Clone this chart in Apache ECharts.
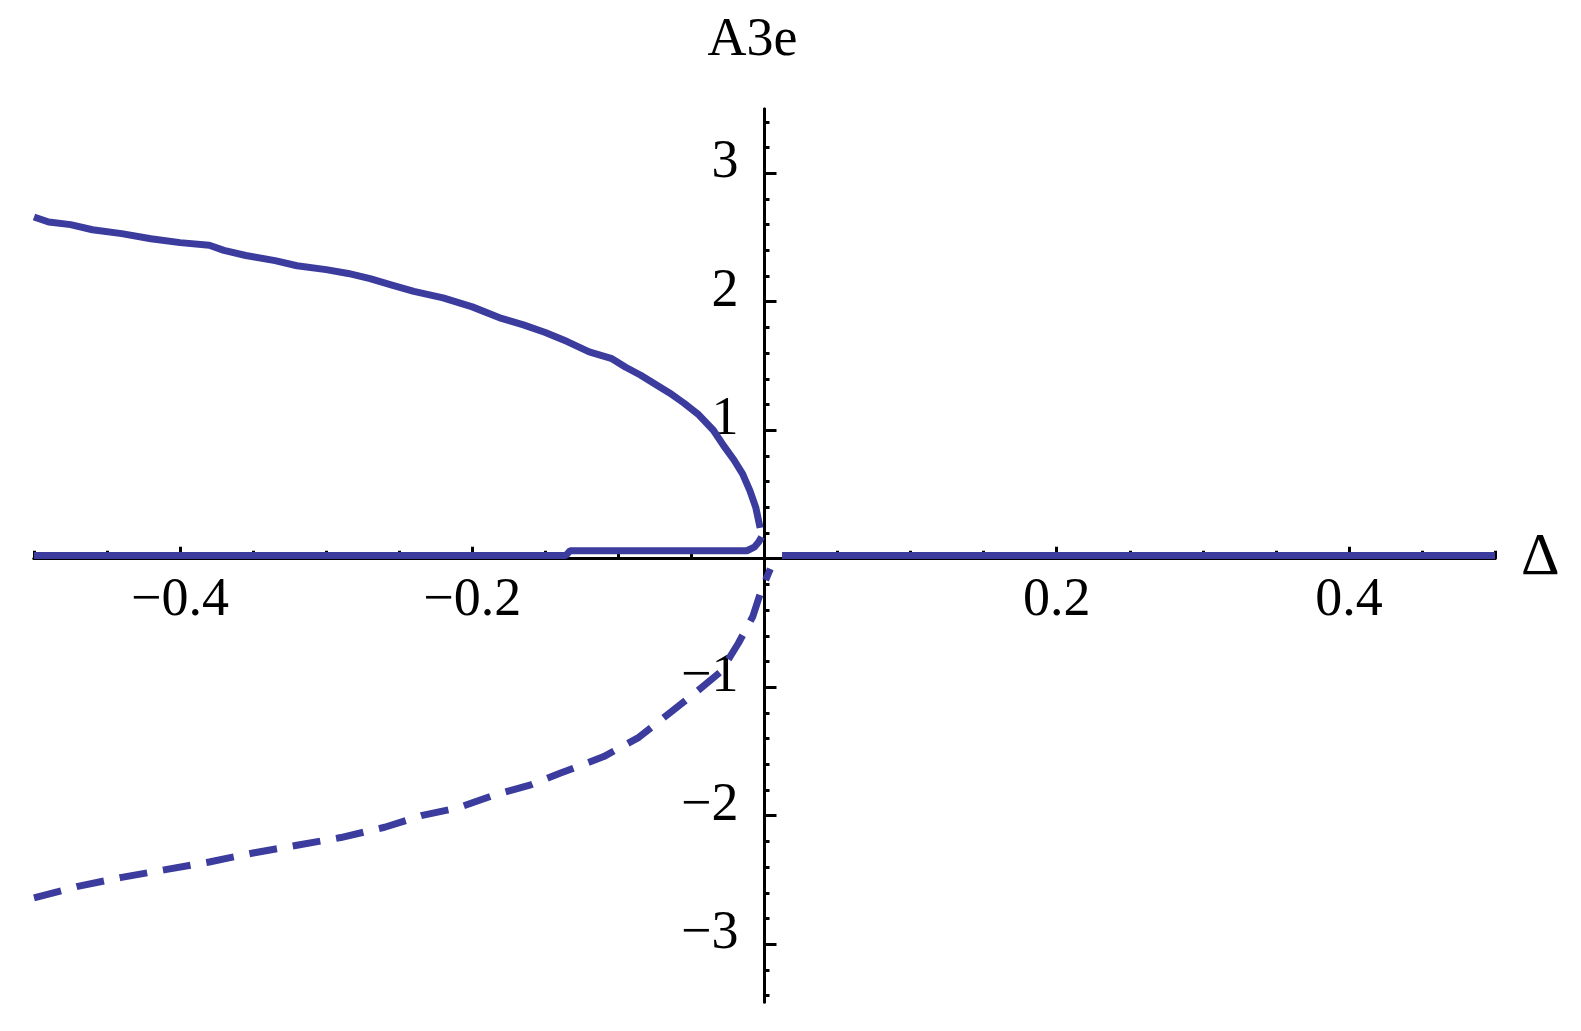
<!DOCTYPE html>
<html><head><meta charset="utf-8">
<script src="https://cdn.jsdelivr.net/npm/echarts@6/dist/echarts.min.js"></script>
<style>html,body{margin:0;padding:0;background:#fff}#c{width:1581px;height:1031px}</style>
</head><body><div id="c"></div>
<script>
// ---- data ----
const upperX = [-0.5,-0.49,-0.475,-0.46,-0.44,-0.42,-0.40,-0.38,-0.37,-0.355,-0.335,-0.32,-0.30,-0.285,-0.27,-0.255,-0.24,-0.22,-0.20,-0.18,-0.165,-0.15,-0.135,-0.12,-0.105,-0.095,-0.085,-0.075,-0.065,-0.055,-0.045,-0.035,-0.028,-0.021,-0.015,-0.010,-0.006,-0.003];
const upperY = [2.66,2.62,2.60,2.56,2.53,2.49,2.46,2.44,2.40,2.36,2.32,2.28,2.25,2.22,2.18,2.13,2.08,2.03,1.96,1.87,1.82,1.76,1.69,1.61,1.56,1.49,1.43,1.36,1.29,1.21,1.12,1.00,0.88,0.77,0.66,0.53,0.40,0.24];

const middleX = [-0.5,-0.136,-0.133,-0.012,-0.007,-0.004,-0.002];
const middleY = [0.025,0.025,0.062,0.062,0.09,0.13,0.17];

const rightX = [0.012,0.5];
const rightY = [0.025,0.025];

const lowerX = [-0.5,-0.47,-0.44,-0.41,-0.38,-0.35,-0.32,-0.29,-0.26,-0.235,-0.21,-0.185,-0.16,-0.14,-0.11,-0.086,-0.066,-0.046,-0.03,-0.018,-0.008,-0.002,0.004];
const lowerY = [-2.64,-2.55,-2.48,-2.42,-2.36,-2.29,-2.23,-2.17,-2.09,-2.00,-1.94,-1.84,-1.76,-1.67,-1.54,-1.39,-1.21,-1.03,-0.88,-0.66,-0.45,-0.24,-0.08];

// ---- ticks and labels ----
const xLabelValues = [-0.4,-0.2,0.2,0.4];
const xMajorTicks = [-0.4,-0.2,0.2,0.4];
const xMinorTicks = [-0.5,-0.45,-0.35,-0.3,-0.25,-0.15,-0.1,-0.05,0.05,0.1,0.15,0.25,0.3,0.35,0.45,0.5];
const yLabelValues = [-3,-2,-1,1,2,3];
const yMajorTicks = [-3,-2,-1,1,2,3];
const yMinorTicks = [-3.4,-3.2,-2.8,-2.6,-2.4,-2.2,-1.8,-1.6,-1.4,-1.2,-0.8,-0.6,-0.4,-0.2,0.2,0.4,0.6,0.8,1.2,1.4,1.6,1.8,2.2,2.4,2.6,2.8,3.2,3.4];

const zip = (xs, ys) => xs.map((x, i) => [x, ys[i]]);
const FONT = "'Liberation Serif','Times New Roman',serif";
const BLUE = '#3c3c9e';
const fmt = v => (v < 0 ? '\u2212' + String(Math.abs(v)) : String(v));
const lineBlack = {color: '#000', width: 3};

const chart = echarts.init(document.getElementById('c'));
chart.setOption({
  animation: false,
  backgroundColor: '#fff',
  grid: {left: 34, right: 86, top: 109, bottom: 29, containLabel: false, outerBoundsMode: 'none'},
  xAxis: [
    {
      type: 'value', min: -0.5, max: 0.5, position: 'bottom',
      axisLine: {onZero: true, lineStyle: lineBlack},
      axisTick: {inside: true, length: 8, customValues: xMinorTicks, lineStyle: lineBlack},
      axisLabel: {show: false},
      splitLine: {show: false},
      name: '\u0394', nameLocation: 'end', nameGap: 26,
      nameTextStyle: {fontSize: 60, fontFamily: FONT, color: '#000', verticalAlign: 'middle', padding: [0, 0, 22, 0]}
    },
    {
      type: 'value', min: -0.5, max: 0.5, position: 'bottom',
      axisLine: {onZero: true, lineStyle: lineBlack},
      axisTick: {inside: true, length: 12, customValues: xMajorTicks, lineStyle: lineBlack},
      axisLabel: {show: false},
      splitLine: {show: false}
    }
  ],
  yAxis: [
    {
      type: 'value', min: -3.45, max: 3.5, position: 'left',
      axisLine: {onZero: true, lineStyle: lineBlack},
      axisTick: {inside: true, length: 5, customValues: yMinorTicks, lineStyle: lineBlack},
      axisLabel: {show: false},
      splitLine: {show: false},
      name: 'A3e', nameLocation: 'end', nameGap: 68,
      nameTextStyle: {fontSize: 54, fontFamily: FONT, color: '#000', align: 'center', verticalAlign: 'middle', padding: [0, 24, 0, 0]}
    },
    {
      type: 'value', min: -3.45, max: 3.5, position: 'left',
      axisLine: {onZero: true, lineStyle: lineBlack},
      axisTick: {inside: true, length: 12, customValues: yMajorTicks, lineStyle: lineBlack},
      axisLabel: {show: false},
      splitLine: {show: false}
    }
  ],
  series: [
    {type: 'line', data: zip(middleX, middleY), showSymbol: false, symbol: 'none', lineStyle: {color: BLUE, width: 7}, z: 3},
    {type: 'line', data: zip(rightX, rightY), showSymbol: false, symbol: 'none', lineStyle: {color: BLUE, width: 7}, z: 3},
    {type: 'line', data: zip(upperX, upperY), showSymbol: false, symbol: 'none', lineStyle: {color: BLUE, width: 7}, z: 3},
    {type: 'line', data: zip(lowerX, lowerY), showSymbol: false, symbol: 'none', lineStyle: {color: BLUE, width: 7, type: [28, 16]}, z: 3}
  ]
});

// tick labels placed at the axes crossing through the library's own scales
const x0 = chart.convertToPixel({xAxisIndex: 0}, 0);
const y0 = chart.convertToPixel({yAxisIndex: 0}, 0);
const labelFont = "54px 'Liberation Serif','Times New Roman',serif";
const labelEls = [];
xLabelValues.forEach(v => labelEls.push({
  type: 'text', silent: true,
  x: chart.convertToPixel({xAxisIndex: 0}, v), y: y0 + 42,
  style: {text: fmt(v), font: labelFont, fill: '#000', textAlign: 'center', textVerticalAlign: 'middle'}
}));
yLabelValues.forEach(v => labelEls.push({
  type: 'text', silent: true,
  x: x0 - 26, y: chart.convertToPixel({yAxisIndex: 0}, v) - 10,
  style: {text: fmt(v), font: labelFont, fill: '#000', textAlign: 'right', textVerticalAlign: 'middle'}
}));
chart.setOption({graphic: {elements: labelEls}});
</script>
</body></html>
